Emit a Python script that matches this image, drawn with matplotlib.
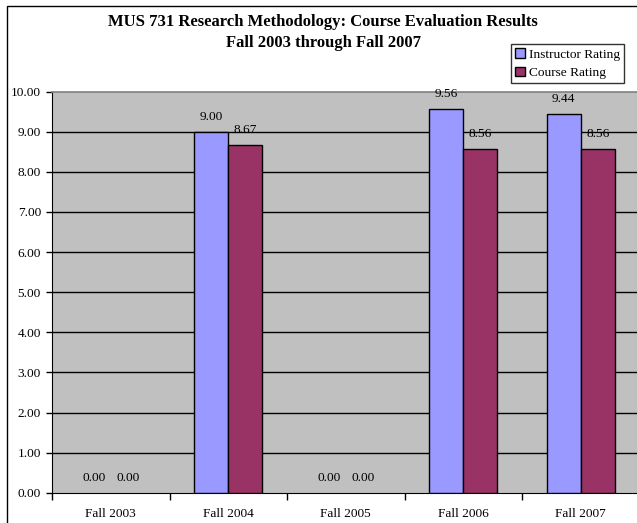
import matplotlib
matplotlib.use("Agg")
import matplotlib.pyplot as plt
from matplotlib.patches import Rectangle, Patch
import numpy as np

categories = ["Fall 2003", "Fall 2004", "Fall 2005", "Fall 2006", "Fall 2007"]
instructor = [0.00, 9.00, 0.00, 9.56, 9.44]
course = [0.00, 8.67, 0.00, 8.56, 8.56]
yticks = [0, 1, 2, 3, 4, 5, 6, 7, 8, 9, 10]

plt.rcParams['font.family'] = ['Liberation Serif', 'DejaVu Serif']

W, H = 637, 523
fig = plt.figure(figsize=(W / 100, H / 100), dpi=100)
fig.patch.set_facecolor('white')

# figure border
fig.patches.append(Rectangle((7 / W, -0.1), 1.0, 1.1 - 6 / H,
                             transform=fig.transFigure, fill=False,
                             edgecolor='black', linewidth=1.0))

left, right, top, bottom = 52, 639.5, 91.7, 492.7
ax = fig.add_axes([left / W, 1 - bottom / H, (right - left) / W, (bottom - top) / H])
ax.set_facecolor('#C0C0C0')

c_instr, c_course = '#9999FF', '#993366'
x = np.arange(len(categories))
bw = 0.289
for yv in yticks[1:-1]:
    ax.axhline(yv, color='black', linewidth=1.0, zorder=1)
ax.bar(x - bw / 2, instructor, bw, color=c_instr, edgecolor='black',
       linewidth=[0 if v == 0 else 1.0 for v in instructor], zorder=3)
ax.bar(x + bw / 2, course, bw, color=c_course, edgecolor='black',
       linewidth=[0 if v == 0 else 1.0 for v in course], zorder=3)

fs = 9.6
for xi, v in zip(x - bw / 2, instructor):
    ax.annotate(f"{v:.2f}", (xi, v), xytext=(0, 15), textcoords='offset pixels',
                ha='center', va='center', fontsize=fs)
for xi, v in zip(x + bw / 2, course):
    ax.annotate(f"{v:.2f}", (xi, v), xytext=(0, 15), textcoords='offset pixels',
                ha='center', va='center', fontsize=fs)

ax.set_xlim(-0.5, len(categories) - 0.5)
ax.set_ylim(0, 10)
ax.set_yticks(yticks)
ax.set_yticklabels([f"{v:.2f}" for v in yticks], fontsize=fs)
ax.set_xticks(np.arange(len(categories) + 1) - 0.5)
ax.set_xticklabels([])
ax.set_xticks(x, minor=True)
ax.set_xticklabels(categories, minor=True, fontsize=fs)
ax.tick_params(axis='x', which='major', length=5, width=1, direction='out')
ax.tick_params(axis='x', which='minor', length=0, pad=11)
ax.tick_params(axis='y', length=4, width=1, direction='out', pad=4)

ax.spines['top'].set_color('#808080')
ax.spines['top'].set_linewidth(1.2)
ax.spines['right'].set_visible(False)
ax.spines['left'].set_color('black')
ax.spines['bottom'].set_color('black')

fig.text(323 / W, 1 - 22 / H, "MUS 731 Research Methodology: Course Evaluation Results",
         ha='center', va='center', fontsize=12, fontweight='bold')
fig.text(323 / W, 1 - 43 / H, "Fall 2003 through Fall 2007",
         ha='center', va='center', fontsize=12, fontweight='bold')

handles = [Patch(facecolor=c_instr, edgecolor='black', linewidth=1.0),
           Patch(facecolor=c_course, edgecolor='black', linewidth=1.0)]
leg = fig.legend(handles, ['Instructor Rating', 'Course Rating'],
                 loc='upper right', bbox_to_anchor=(624 / W, 1 - 44 / H),
                 fontsize=fs, frameon=True, fancybox=False, edgecolor='black',
                 handlelength=0.75, handleheight=0.75, handletextpad=0.3,
                 borderpad=0.3, labelspacing=0.45, borderaxespad=0)
leg.get_frame().set_linewidth(1.0)

fig.savefig("out.png", dpi=100)
